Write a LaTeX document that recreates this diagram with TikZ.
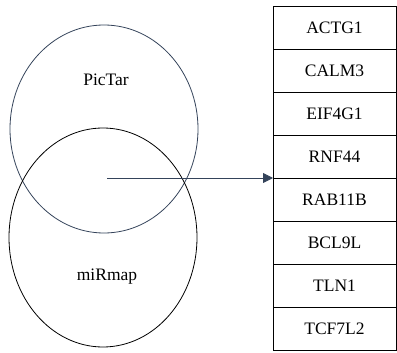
\documentclass[tikz,border=0pt]{standalone}
\usepackage{fontspec}
\setmainfont{Liberation Serif}
\usetikzlibrary{positioning,shapes.geometric,arrows.meta}
\definecolor{slate}{HTML}{34435A}
\newcommand\cw{123}
\newcommand\ch{43}
\newcommand\tx{273}
\newcommand\ty{6}

\tikzset{
	setring/.style={draw, ellipse, inner sep=0pt, line width=0.8pt},
	genecell/.style={draw, line width=0.8pt, minimum width=\cw pt, minimum height=\ch pt, inner sep=0pt, outer sep=0pt, anchor=north west},
	every node/.style={font=\fontsize{17.5}{20}\selectfont}
}

\begin{document}
\begin{tikzpicture}[x=1pt,y=-1pt]
\useasboundingbox (0,0) rectangle (397,353);
\node (pictar) [setring, draw=slate, minimum width=188pt, minimum height=208pt] at (104,129) {};
\node (mirmap) [setring, minimum width=188pt, minimum height=219pt] at (103,237.5) {};
\node (pictarlabel) at (106,80) {PicTar};
\node (mirmaplabel) at (107,277) {miRmap};
\foreach \g [count=\i from 0] in {ACTG1,CALM3,EIF4G1,RNF44,RAB11B,BCL9L,TLN1,TCF7L2} {
	\node (g\i) [genecell] at (\tx,\ty+\ch*\i) {\g};
}
\coordinate (common) at (107,178);
\draw [slate, line width=0.8pt, -{Triangle[length=10pt,width=10pt]}] (common) -- (g3.south west);
\end{tikzpicture}
\end{document}
